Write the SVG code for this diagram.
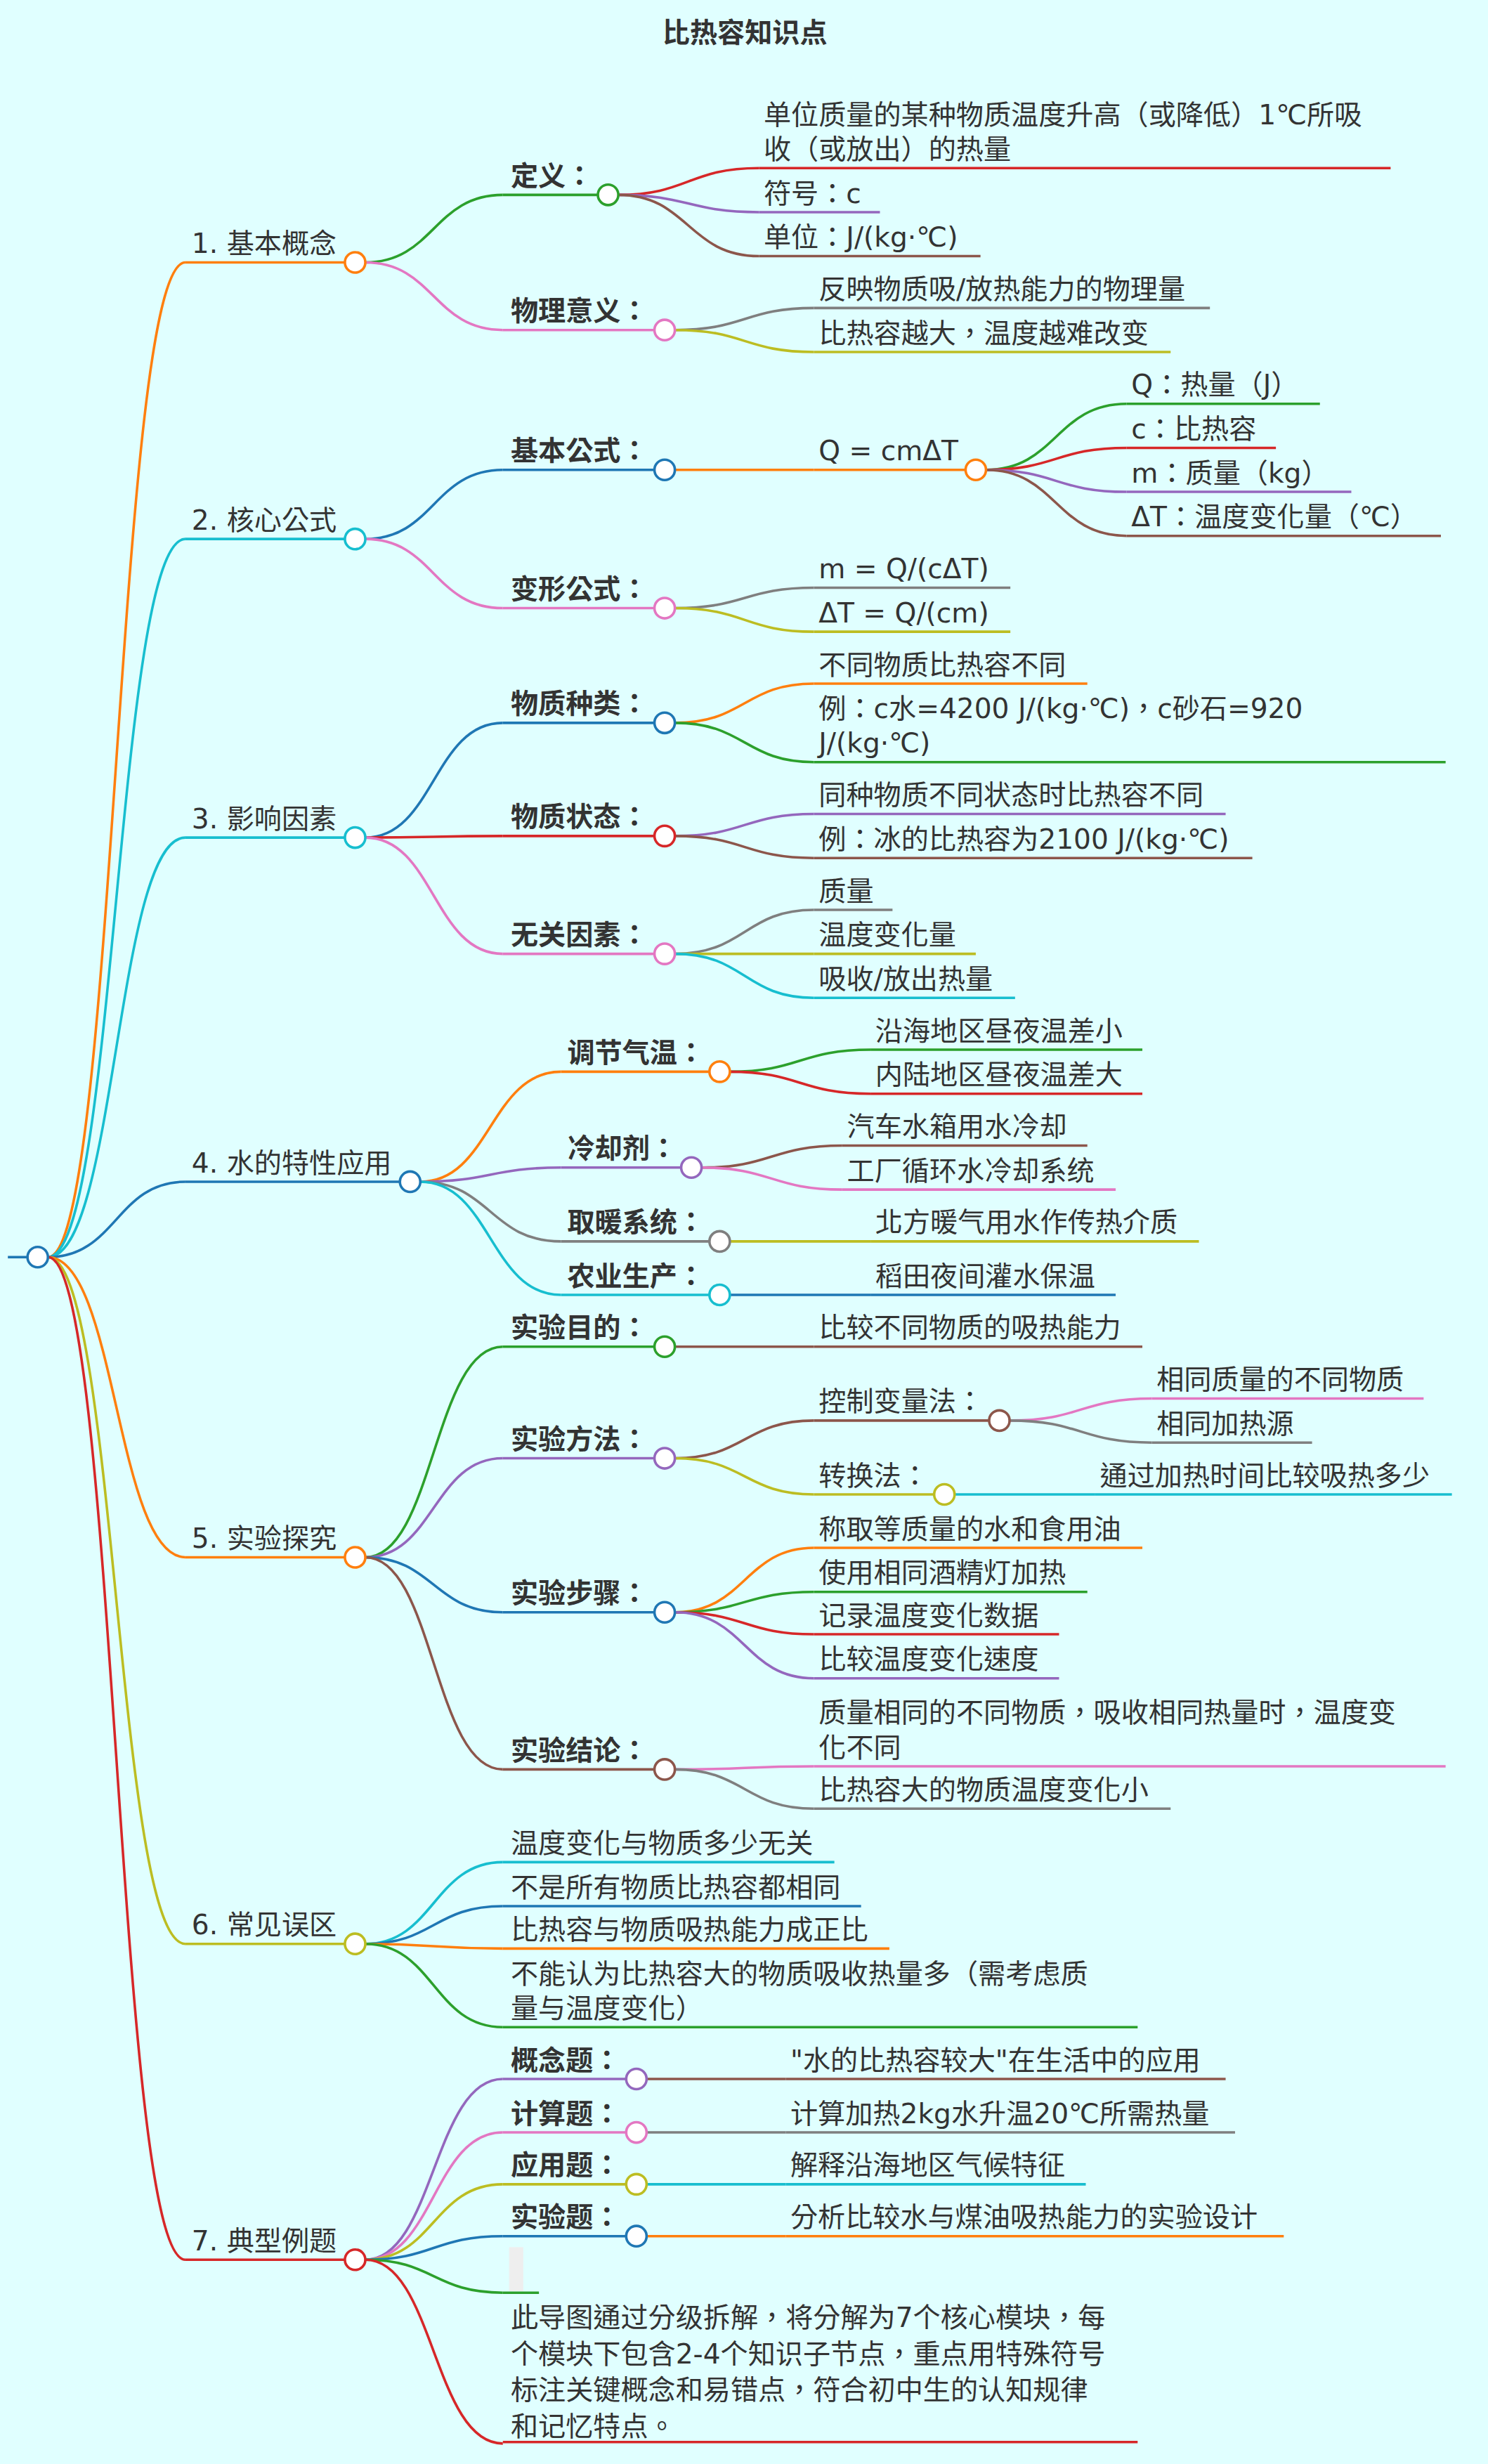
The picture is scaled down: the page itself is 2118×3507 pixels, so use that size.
<svg xmlns="http://www.w3.org/2000/svg" width="2118" height="3507" viewBox="0 0 2118 3507">
<style>
.e{fill:none;stroke-width:1.6}
.n{fill:#fff;stroke-width:1.6}
.t{font-family:"DejaVu Sans","Noto Sans CJK TC",sans-serif;font-size:17.5px;fill:#333}
.b{font-weight:bold}
.o{stroke:#ff7f0e}.c{stroke:#17becf}.bl{stroke:#1f77b4}.g{stroke:#2ca02c}.r{stroke:#d62728}.p{stroke:#9467bd}.k{stroke:#e377c2}.gy{stroke:#7f7f7f}.ol{stroke:#bcbd22}.br{stroke:#8c564b}
</style>
<rect width="2118" height="3507" fill="#e0ffff"/>
<g transform="scale(2.2366)">
<text id="title" class="t b" x="474" y="27" font-size="19" text-anchor="middle">比热容知识点</text>
<g id="connectors">
<path class="e bl" d="M5 800H17.5"/>
<path class="e o" d="M30.5 800C74 800 74 167 118 167"/>
<path class="e c" d="M30.5 800C74 800 74 343 118 343"/>
<path class="e c" d="M30.5 800C74 800 74 533 118 533"/>
<path class="e bl" d="M30.5 800C74 800 74 752 118 752"/>
<path class="e o" d="M30.5 800C74 800 74 991 118 991"/>
<path class="e ol" d="M30.5 800C74 800 74 1237 118 1237"/>
<path class="e r" d="M30.5 800C74 800 74 1438 118 1438"/>
<path class="e g" d="M232.5 167C276 167 276 124 320 124"/>
<path class="e k" d="M232.5 167C276 167 276 210 320 210"/>
<path class="e r" d="M393.5 124C438 124 438 107 483 107"/>
<path class="e p" d="M393.5 124C438 124 438 135 483 135"/>
<path class="e br" d="M393.5 124C438 124 438 163 483 163"/>
<path class="e gy" d="M429.5 210C474 210 474 196 518 196"/>
<path class="e ol" d="M429.5 210C474 210 474 224 518 224"/>
<path class="e bl" d="M232.5 343C276 343 276 299 320 299"/>
<path class="e k" d="M232.5 343C276 343 276 387 320 387"/>
<path class="e o" d="M429.5 299H518"/>
<path class="e g" d="M627.5 299C672 299 672 257 717 257"/>
<path class="e r" d="M627.5 299C672 299 672 285 717 285"/>
<path class="e p" d="M627.5 299C672 299 672 313 717 313"/>
<path class="e br" d="M627.5 299C672 299 672 341 717 341"/>
<path class="e gy" d="M429.5 387C474 387 474 374 518 374"/>
<path class="e ol" d="M429.5 387C474 387 474 402 518 402"/>
<path class="e bl" d="M232.5 533C276 533 276 460 320 460"/>
<path class="e r" d="M232.5 533C276 533 276 532 320 532"/>
<path class="e k" d="M232.5 533C276 533 276 607 320 607"/>
<path class="e o" d="M429.5 460C474 460 474 435 518 435"/>
<path class="e g" d="M429.5 460C474 460 474 485 518 485"/>
<path class="e p" d="M429.5 532C474 532 474 518 518 518"/>
<path class="e br" d="M429.5 532C474 532 474 546 518 546"/>
<path class="e gy" d="M429.5 607C474 607 474 579 518 579"/>
<path class="e ol" d="M429.5 607C474 607 474 607 518 607"/>
<path class="e c" d="M429.5 607C474 607 474 635 518 635"/>
<path class="e o" d="M267.5 752C312 752 312 682 357 682"/>
<path class="e p" d="M267.5 752C312 752 312 743 357 743"/>
<path class="e gy" d="M267.5 752C312 752 312 790 357 790"/>
<path class="e c" d="M267.5 752C312 752 312 824 357 824"/>
<path class="e g" d="M464.5 682C509 682 509 668 554 668"/>
<path class="e r" d="M464.5 682C509 682 509 696 554 696"/>
<path class="e br" d="M446.5 743C491 743 491 729 536 729"/>
<path class="e k" d="M446.5 743C491 743 491 757 536 757"/>
<path class="e ol" d="M464.5 790H554"/>
<path class="e bl" d="M464.5 824H554"/>
<path class="e g" d="M232.5 991C276 991 276 857 320 857"/>
<path class="e p" d="M232.5 991C276 991 276 928 320 928"/>
<path class="e bl" d="M232.5 991C276 991 276 1026 320 1026"/>
<path class="e br" d="M232.5 991C276 991 276 1126 320 1126"/>
<path class="e br" d="M429.5 857H518"/>
<path class="e br" d="M429.5 928C474 928 474 904 518 904"/>
<path class="e ol" d="M429.5 928C474 928 474 951 518 951"/>
<path class="e k" d="M642.5 904C688 904 688 890 733 890"/>
<path class="e gy" d="M642.5 904C688 904 688 918 733 918"/>
<path class="e c" d="M607.5 951H697"/>
<path class="e o" d="M429.5 1026C474 1026 474 985 518 985"/>
<path class="e g" d="M429.5 1026C474 1026 474 1013 518 1013"/>
<path class="e r" d="M429.5 1026C474 1026 474 1040 518 1040"/>
<path class="e p" d="M429.5 1026C474 1026 474 1068 518 1068"/>
<path class="e k" d="M429.5 1126C474 1126 474 1124 518 1124"/>
<path class="e gy" d="M429.5 1126C474 1126 474 1151 518 1151"/>
<path class="e c" d="M232.5 1237C276 1237 276 1185 320 1185"/>
<path class="e bl" d="M232.5 1237C276 1237 276 1213 320 1213"/>
<path class="e o" d="M232.5 1237C276 1237 276 1240 320 1240"/>
<path class="e g" d="M232.5 1237C276 1237 276 1290 320 1290"/>
<path class="e p" d="M232.5 1438C276 1438 276 1323 320 1323"/>
<path class="e k" d="M232.5 1438C276 1438 276 1357 320 1357"/>
<path class="e ol" d="M232.5 1438C276 1438 276 1390 320 1390"/>
<path class="e bl" d="M232.5 1438C276 1438 276 1423 320 1423"/>
<path class="e g" d="M232.5 1438C276 1438 276 1459 320 1459"/>
<path class="e r" d="M232.5 1438C276 1438 276 1555 320 1555"/>
<path class="e br" d="M411.5 1323H500"/>
<path class="e gy" d="M411.5 1357H500"/>
<path class="e c" d="M411.5 1390H500"/>
<path class="e o" d="M411.5 1423H500"/>
</g>
<g id="root"><circle class="n bl" cx="24" cy="800" r="6.5"/></g>
<g id="n1"><path class="e o" d="M118 167H219.5"/><circle class="n o" cx="226" cy="167" r="6.5"/><text class="t" x="122" y="161">1. 基本概念</text></g>
<g id="n1a"><path class="e g" d="M320 124H380.5"/><circle class="n g" cx="387" cy="124" r="6.5"/><text class="t b" x="325" y="118">定义：</text></g>
<g id="n1a1"><path class="e r" d="M483 107H885"/><text class="t" x="486" y="79">单位质量的某种物质温度升高（或降低）1℃所吸</text><text class="t" x="486" y="101">收（或放出）的热量</text></g>
<g id="n1a2"><path class="e p" d="M483 135H560"/><text class="t" x="486" y="129">符号：c</text></g>
<g id="n1a3"><path class="e br" d="M483 163H624"/><text class="t" x="486" y="157">单位：J/(kg·℃)</text></g>
<g id="n1b"><path class="e k" d="M320 210H416.5"/><circle class="n k" cx="423" cy="210" r="6.5"/><text class="t b" x="325" y="204">物理意义：</text></g>
<g id="n1b1"><path class="e gy" d="M518 196H770"/><text class="t" x="521" y="190">反映物质吸/放热能力的物理量</text></g>
<g id="n1b2"><path class="e ol" d="M518 224H745"/><text class="t" x="521" y="218">比热容越大，温度越难改变</text></g>
<g id="n2"><path class="e c" d="M118 343H219.5"/><circle class="n c" cx="226" cy="343" r="6.5"/><text class="t" x="122" y="337">2. 核心公式</text></g>
<g id="n2a"><path class="e bl" d="M320 299H416.5"/><circle class="n bl" cx="423" cy="299" r="6.5"/><text class="t b" x="325" y="293">基本公式：</text></g>
<g id="n2a1"><path class="e o" d="M518 299H614.5"/><circle class="n o" cx="621" cy="299" r="6.5"/><text class="t" x="521" y="293">Q = cmΔT</text></g>
<g id="n2a1a"><path class="e g" d="M717 257H840"/><text class="t" x="720" y="251">Q：热量（J）</text></g>
<g id="n2a1b"><path class="e r" d="M717 285H812"/><text class="t" x="720" y="279">c：比热容</text></g>
<g id="n2a1c"><path class="e p" d="M717 313H860"/><text class="t" x="720" y="307">m：质量（kg）</text></g>
<g id="n2a1d"><path class="e br" d="M717 341H917"/><text class="t" x="720" y="335">ΔT：温度变化量（℃）</text></g>
<g id="n2b"><path class="e k" d="M320 387H416.5"/><circle class="n k" cx="423" cy="387" r="6.5"/><text class="t b" x="325" y="381">变形公式：</text></g>
<g id="n2b1"><path class="e gy" d="M518 374H643"/><text class="t" x="521" y="368">m = Q/(cΔT)</text></g>
<g id="n2b2"><path class="e ol" d="M518 402H643"/><text class="t" x="521" y="396">ΔT = Q/(cm)</text></g>
<g id="n3"><path class="e c" d="M118 533H219.5"/><circle class="n c" cx="226" cy="533" r="6.5"/><text class="t" x="122" y="527">3. 影响因素</text></g>
<g id="n3a"><path class="e bl" d="M320 460H416.5"/><circle class="n bl" cx="423" cy="460" r="6.5"/><text class="t b" x="325" y="454">物质种类：</text></g>
<g id="n3a1"><path class="e o" d="M518 435H692"/><text class="t" x="521" y="429">不同物质比热容不同</text></g>
<g id="n3a2"><path class="e g" d="M518 485H920"/><text class="t" x="521" y="457">例：c水=4200 J/(kg·℃)，c砂石=920</text><text class="t" x="521" y="479">J/(kg·℃)</text></g>
<g id="n3b"><path class="e r" d="M320 532H416.5"/><circle class="n r" cx="423" cy="532" r="6.5"/><text class="t b" x="325" y="526">物质状态：</text></g>
<g id="n3b1"><path class="e p" d="M518 518H780"/><text class="t" x="521" y="512">同种物质不同状态时比热容不同</text></g>
<g id="n3b2"><path class="e br" d="M518 546H797"/><text class="t" x="521" y="540">例：冰的比热容为2100 J/(kg·℃)</text></g>
<g id="n3c"><path class="e k" d="M320 607H416.5"/><circle class="n k" cx="423" cy="607" r="6.5"/><text class="t b" x="325" y="601">无关因素：</text></g>
<g id="n3c1"><path class="e gy" d="M518 579H568"/><text class="t" x="521" y="573">质量</text></g>
<g id="n3c2"><path class="e ol" d="M518 607H621"/><text class="t" x="521" y="601">温度变化量</text></g>
<g id="n3c3"><path class="e c" d="M518 635H646"/><text class="t" x="521" y="629">吸收/放出热量</text></g>
<g id="n4"><path class="e bl" d="M118 752H254.5"/><circle class="n bl" cx="261" cy="752" r="6.5"/><text class="t" x="122" y="746">4. 水的特性应用</text></g>
<g id="n4a"><path class="e o" d="M357 682H451.5"/><circle class="n o" cx="458" cy="682" r="6.5"/><text class="t b" x="361" y="676">调节气温：</text></g>
<g id="n4a1"><path class="e g" d="M554 668H727"/><text class="t" x="557" y="662">沿海地区昼夜温差小</text></g>
<g id="n4a2"><path class="e r" d="M554 696H727"/><text class="t" x="557" y="690">内陆地区昼夜温差大</text></g>
<g id="n4b"><path class="e p" d="M357 743H433.5"/><circle class="n p" cx="440" cy="743" r="6.5"/><text class="t b" x="361" y="737">冷却剂：</text></g>
<g id="n4b1"><path class="e br" d="M536 729H692"/><text class="t" x="539" y="723">汽车水箱用水冷却</text></g>
<g id="n4b2"><path class="e k" d="M536 757H710"/><text class="t" x="539" y="751">工厂循环水冷却系统</text></g>
<g id="n4c"><path class="e gy" d="M357 790H451.5"/><circle class="n gy" cx="458" cy="790" r="6.5"/><text class="t b" x="361" y="784">取暖系统：</text></g>
<g id="n4c1"><path class="e ol" d="M554 790H763"/><text class="t" x="557" y="784">北方暖气用水作传热介质</text></g>
<g id="n4d"><path class="e c" d="M357 824H451.5"/><circle class="n c" cx="458" cy="824" r="6.5"/><text class="t b" x="361" y="818">农业生产：</text></g>
<g id="n4d1"><path class="e bl" d="M554 824H710"/><text class="t" x="557" y="818">稻田夜间灌水保温</text></g>
<g id="n5"><path class="e o" d="M118 991H219.5"/><circle class="n o" cx="226" cy="991" r="6.5"/><text class="t" x="122" y="985">5. 实验探究</text></g>
<g id="n5a"><path class="e g" d="M320 857H416.5"/><circle class="n g" cx="423" cy="857" r="6.5"/><text class="t b" x="325" y="851">实验目的：</text></g>
<g id="n5a1"><path class="e br" d="M518 857H727"/><text class="t" x="521" y="851">比较不同物质的吸热能力</text></g>
<g id="n5b"><path class="e p" d="M320 928H416.5"/><circle class="n p" cx="423" cy="928" r="6.5"/><text class="t b" x="325" y="922">实验方法：</text></g>
<g id="n5b1"><path class="e br" d="M518 904H629.5"/><circle class="n br" cx="636" cy="904" r="6.5"/><text class="t" x="521" y="898">控制变量法：</text></g>
<g id="n5b1a"><path class="e k" d="M733 890H906"/><text class="t" x="736" y="884">相同质量的不同物质</text></g>
<g id="n5b1b"><path class="e gy" d="M733 918H835"/><text class="t" x="736" y="912">相同加热源</text></g>
<g id="n5b2"><path class="e ol" d="M518 951H594.5"/><circle class="n ol" cx="601" cy="951" r="6.5"/><text class="t" x="521" y="945">转换法：</text></g>
<g id="n5b2a"><path class="e c" d="M697 951H924"/><text class="t" x="700" y="945">通过加热时间比较吸热多少</text></g>
<g id="n5c"><path class="e bl" d="M320 1026H416.5"/><circle class="n bl" cx="423" cy="1026" r="6.5"/><text class="t b" x="325" y="1020">实验步骤：</text></g>
<g id="n5c1"><path class="e o" d="M518 985H727"/><text class="t" x="521" y="979">称取等质量的水和食用油</text></g>
<g id="n5c2"><path class="e g" d="M518 1013H692"/><text class="t" x="521" y="1007">使用相同酒精灯加热</text></g>
<g id="n5c3"><path class="e r" d="M518 1040H674"/><text class="t" x="521" y="1034">记录温度变化数据</text></g>
<g id="n5c4"><path class="e p" d="M518 1068H674"/><text class="t" x="521" y="1062">比较温度变化速度</text></g>
<g id="n5d"><path class="e br" d="M320 1126H416.5"/><circle class="n br" cx="423" cy="1126" r="6.5"/><text class="t b" x="325" y="1120">实验结论：</text></g>
<g id="n5d1"><path class="e k" d="M518 1124H920"/><text class="t" x="521" y="1096">质量相同的不同物质，吸收相同热量时，温度变</text><text class="t" x="521" y="1118">化不同</text></g>
<g id="n5d2"><path class="e gy" d="M518 1151H745"/><text class="t" x="521" y="1145">比热容大的物质温度变化小</text></g>
<g id="n6"><path class="e ol" d="M118 1237H219.5"/><circle class="n ol" cx="226" cy="1237" r="6.5"/><text class="t" x="122" y="1231">6. 常见误区</text></g>
<g id="n6a"><path class="e c" d="M320 1185H531"/><text class="t" x="325" y="1179">温度变化与物质多少无关</text></g>
<g id="n6b"><path class="e bl" d="M320 1213H548"/><text class="t" x="325" y="1207">不是所有物质比热容都相同</text></g>
<g id="n6c"><path class="e o" d="M320 1240H566"/><text class="t" x="325" y="1234">比热容与物质吸热能力成正比</text></g>
<g id="n6d"><path class="e g" d="M320 1290H724"/><text class="t" x="325" y="1262">不能认为比热容大的物质吸收热量多（需考虑质</text><text class="t" x="325" y="1284">量与温度变化）</text></g>
<g id="n7"><path class="e r" d="M118 1438H219.5"/><circle class="n r" cx="226" cy="1438" r="6.5"/><text class="t" x="122" y="1432">7. 典型例题</text></g>
<g id="n7a"><path class="e p" d="M320 1323H398.5"/><circle class="n p" cx="405" cy="1323" r="6.5"/><text class="t b" x="325" y="1317">概念题：</text></g>
<g id="n7a1"><path class="e br" d="M500 1323H780"/><text class="t" x="503" y="1317">"水的比热容较大"在生活中的应用</text></g>
<g id="n7b"><path class="e k" d="M320 1357H398.5"/><circle class="n k" cx="405" cy="1357" r="6.5"/><text class="t b" x="325" y="1351">计算题：</text></g>
<g id="n7b1"><path class="e gy" d="M500 1357H786"/><text class="t" x="503" y="1351">计算加热2kg水升温20℃所需热量</text></g>
<g id="n7c"><path class="e ol" d="M320 1390H398.5"/><circle class="n ol" cx="405" cy="1390" r="6.5"/><text class="t b" x="325" y="1384">应用题：</text></g>
<g id="n7c1"><path class="e c" d="M500 1390H691"/><text class="t" x="503" y="1384">解释沿海地区气候特征</text></g>
<g id="n7d"><path class="e bl" d="M320 1423H398.5"/><circle class="n bl" cx="405" cy="1423" r="6.5"/><text class="t b" x="325" y="1417">实验题：</text></g>
<g id="n7d1"><path class="e o" d="M500 1423H817"/><text class="t" x="503" y="1417">分析比较水与煤油吸热能力的实验设计</text></g>
<g id="n7e"><path class="e g" d="M320 1459H343"/><rect x="324" y="1430" width="9" height="28" fill="#eeeeee"/></g>
<g id="n7f"><path class="e r" d="M320 1554H724"/><text class="t" x="325" y="1481">此导图通过分级拆解，将分解为7个核心模块，每</text><text class="t" x="325" y="1504">个模块下包含2-4个知识子节点，重点用特殊符号</text><text class="t" x="325" y="1527">标注关键概念和易错点，符合初中生的认知规律</text><text class="t" x="325" y="1550">和记忆特点。</text></g>
</g>
</svg>
